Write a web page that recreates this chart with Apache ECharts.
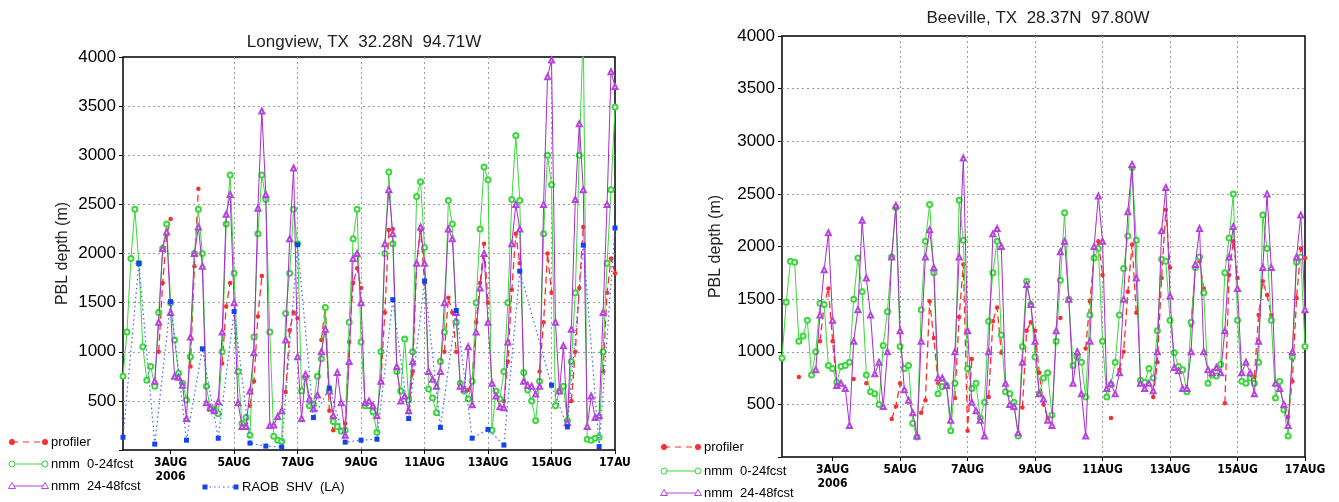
<!DOCTYPE html>
<html><head><meta charset="utf-8">
<script src="https://cdn.jsdelivr.net/npm/echarts@6/dist/echarts.min.js"></script>
<style>html,body{margin:0;padding:0;background:#fff}#c{width:1339px;height:502px}</style>
</head><body><div id="c"></div>
<script>
// ---- DATA (hours since 2006-08-01 00Z) ----
const tickHours = [48, 96, 144, 192, 240, 288, 336, 384];
const tickLabelsLeft = ['3AUG\n2006', '5AUG', '7AUG', '9AUG', '11AUG', '13AUG', '15AUG', '17AU'];
const tickLabelsRight = ['3AUG\n2006', '5AUG', '7AUG', '9AUG', '11AUG', '13AUG', '15AUG', '17AUG'];

// model / profiler samples every 3 h from Aug 1 12Z to Aug 17 00Z
const lvProfiler = [
  null, null, null, null,
  null, null, null, null, null, 1000, 1700, 2190,
  2350, null, null, null, null, 850, 1870, 2660,
  null, null, null, null, null, 880, 1460, 1700,
  null, null, null, null, 450, 700, 1360, 1770,
  null, null, null, null, null, 590, 1220, 1400,
  1340, null, null, null, null, null, 1120, 1460,
  400, 200, null, null, 270, 1100, 1700, 1850,
  1650, null, null, null, null, 700, 1400, 2240,
  2250, null, null, null, 400, 800, 1900, 2240,
  1700, null, null, null, null, 1000, 1550, 1400,
  1000, null, null, 610, 700, 1300, 1700, 2100,
  1500, null, null, null, 500, 900, 1630, 2200,
  1900, null, null, null, null, 800, 1300, 2000,
  1600, null, null, null, null, 500, 1000, 1650,
  2270, null, null, null, null, 800, 1600, 1950,
  1800
];
const lvNmm0024 = [
  750, 1200, 1950, 2450,
  1900, 1050, 710, 850, 650, 1400, 2050, 2300,
  1500, 1120, 780, 680, 510, 950, 2000, 2450,
  2000, 650, 420, 420, 370, 1000, 2300, 2800,
  1800, 800, 270, 330, 150, 1150, 2200, 2800,
  2550, 1200, 140, 100, 90, 1390, 1800, 2450,
  2100, 600, 740, 450, 460, 750, 930, 1450,
  600, 290, 240, 190, 200, 1300, 2150, 2450,
  1100, 450, 450, 390, 180, 1000, 2000, 2830,
  2100, 800, 600, 1130, 510, 1000, 2580, 2730,
  2060, 620, 530, 380, 900, 1200, 2540, 2300,
  1300, 680, 600, 520, 700, 1500, 2250, 2880,
  2750, 200, 600, 520, 800, 1500, 2550, 3200,
  2540, 790, 610, 500, 300, 700, 2200, 3000,
  2700, 450, 600, 650, 300, 900, 1600, 3000,
  4300, 110, 100, 120, 130, 1000, 1900, 2650,
  3490
];
const lvNmm2448 = [
  null, null, null, null,
  null, null, null, null, 700, 1300, 2050, 2220,
  1400, 750, 740, 660, 320, 1150, 2000, 2270,
  1870, 480, 430, 400, 490, 1200, 2400, 2600,
  1500, 480, 240, 240, 600, 990, 2460, 3450,
  2600, 250, 255, 340, 400, 1120, 2150, 2870,
  950, 320, 770, 520, 420, 560, 1000, 1230,
  600, 350, 790, 480, 150, 900, 1950, 2000,
  1500, 480, 500, 450, 350, 700, 2100, 2650,
  2200, 850, 500, 550, 400, 900, 1900, 2270,
  1900, 800, 720, 650, 800, 1500, 2250, 2150,
  1400, 650, 620, 1050, 460, 1200, 1650, 2000,
  1300, 680, 550, 440, 430, 1100, 2100, 2500,
  2250, 700, 660, 650, 570, 650, 2500, 3800,
  3970, 1300, 600, 1060, 280, 1230, 2550, 3320,
  2650, 240, 550, 330, 350, 1400, 2500, 3850,
  3700
];
// RAOB every 12 h from Aug 1 12Z to Aug 17 00Z
const lvRaob = [
  130, 1900, 60, 1510, 100, 1030, 120, 1410, 70, 40, 30, 2090, 330, 630, 80, 100,
  110, 1530, 320, 1720, 230, 1420, 120, 210, 50, 1820, null, 660, 235, 2085, 35, 2260
];

const bvProfiler = [
  null, null, null, null,
  760, null, null, null, null, 1100, 1450, 1600,
  1100, 680, null, null, null, 740, null, null,
  700, null, null, null, null, null, 360, 480,
  700, 640, null, null, null, 420, 540, 1480,
  1130, 700, null, null, null, 560, 1330, 1830,
  250, 930, null, null, null, 570, 1290, 1420,
  990, null, null, null, null, 470, 1200, 1280,
  1200, 800, 500, 370, null, null, 1320, null,
  null, null, null, null, 1030, 1480, 1900, 2050,
  1730, null, 370, null, 830, 1000, 1570, 2020,
  1370, null, null, null, 570, 900, 1700, 2350,
  1800, null, null, null, null, 1250, 1810, 1860,
  1600, null, null, null, null, 510, 1730, 2050,
  1700, null, null, null, 760, 1350, 1670, 1540,
  1350, null, null, null, 380, 720, 1510, 1980,
  1890
];
const bvNmm0024 = [
  940, 1470, 1860, 1850,
  1100, 1150, 1300, 780, 1000, 1460, 1450, 870,
  840, 710, 860, 870, 900, 1500, 1890, 1570,
  780, 620, 600, 500, 1060, 1380, 1900, 2370,
  1050, 840, 870, 320, 190, 1400, 2050, 2400,
  1750, 600, 670, 680, 250, 700, 2440, 2060,
  840, 650, 700, 370, 520, 1290, 1750, 2050,
  1160, 620, 600, 520, 200, 1050, 1670, 1450,
  950, 600, 750, 800, 400, 1100, 1680, 2320,
  1500, 870, 950, 900, 570, 1350, 1890, 1980,
  1100, 570, 690, 900, 1350, 1790, 2100, 2750,
  2060, 730, 710, 840, 750, 1200, 1880, 1860,
  1300, 990, 860, 830, 620, 1280, 1800, 1900,
  1560, 700, 780, 770, 880, 1750, 2080, 2500,
  1300, 720, 700, 750, 700, 900, 2300, 1980,
  1300, 560, 720, 450, 200, 950, 1850, 1900,
  1050
];
const bvNmm2448 = [
  null, null, null, null,
  null, null, null, null, 830, 1350, 1780, 2130,
  1300, 680, 700, 650, 300, 1100, 1400, 2250,
  1700, 1350, 790, 900, 480, 1000, 1900, 2390,
  1200, 640, 540, 420, 200, 1100, 1900, 2160,
  1800, 750, 750, 680, 350, 1000, 1900, 2840,
  1200, 520, 440, 350, 200, 1000, 2120, 2170,
  2000, 700, 500, 480, 230, 900, 1640, 1450,
  1100, 600, 550, 350, 300, 1200, 1950, 2050,
  1500, 700, 1000, 600, 200, 1100, 2000, 2480,
  2050, 650, 700, 600, 800, 1500, 2330, 2780,
  1700, 700, 650, 700, 630, 1000, 2150, 2560,
  1530, 850, 820, 650, 650, 1000, 1830, 2170,
  1000, 830, 800, 850, 800, 1200, 1900, 2190,
  1600, 800, 900, 800, 600, 1100, 1800, 2500,
  1800, 700, 650, 500, 300, 1000, 1900, 2300,
  1400
];

// ---- time stamps ----
const hours3 = [];
for (let i = 0; i < lvNmm0024.length; i++) hours3.push(12 + 3 * i);
const hours12 = [];
for (let i = 0; i < lvRaob.length; i++) hours12.push(12 + 12 * i);
const pairs = (vals, hrs) => vals.map((v, i) => [hrs[i], v]);

// ---- styles ----
const RED = '#ff2e2e', GREEN = '#3bd83b', PURPLE = '#b544dc', PURPLE_L = '#a82ccc', BLUE = '#1444f0';
const AX_FONT = '"Liberation Sans", Arial, sans-serif';
const NARROW = '"Liberation Sans Narrow", "DejaVu Sans Condensed", sans-serif';

const chart = echarts.init(document.getElementById('c'), null, { renderer: 'canvas' });

function xAxisFor(gi, labels) {
  return {
    type: 'value', gridIndex: gi, min: 12, max: 384,
    axisLine: { show: false },
    axisTick: { show: true, customValues: tickHours, length: 4, lineStyle: { color: '#000', width: 1 } },
    axisLabel: {
      customValues: tickHours, margin: 6, color: '#000',
      fontFamily: NARROW, fontWeight: 'bold', fontSize: 12, lineHeight: 14,
      formatter: v => labels[tickHours.indexOf(v)] || ''
    },
    splitLine: { show: true, showMinLine: false, showMaxLine: false,
      lineStyle: { color: '#9a9a9a', type: [2, 3], width: 1 } }
  };
}
function yAxisFor(gi, gap) {
  return {
    type: 'value', gridIndex: gi, min: 0, max: 4000, interval: 500,
    name: 'PBL depth (m)', nameLocation: 'middle', nameGap: gap,
    nameTextStyle: { fontFamily: AX_FONT, fontSize: 16, color: '#222' },
    axisLine: { show: false },
    axisTick: { show: true, length: 4, lineStyle: { color: '#000' } },
    axisLabel: { formatter: v => (v === 0 ? '' : String(v)), fontFamily: AX_FONT, fontSize: 17, color: '#000', margin: 7 },
    splitLine: { show: true, showMinLine: false, showMaxLine: false,
      lineStyle: { color: '#9a9a9a', type: [2, 3], width: 1 } }
  };
}
function profilerSeries(gi, vals) {
  return { type: 'line', xAxisIndex: gi, yAxisIndex: gi, data: pairs(vals, hours3),
    symbol: 'circle', symbolSize: 4.5, showAllSymbol: true, connectNulls: false,
    itemStyle: { color: RED }, lineStyle: { color: RED, width: 1.3, type: [7, 4] }, z: 2 };
}
function nmm0024Series(gi, vals) {
  return { type: 'line', xAxisIndex: gi, yAxisIndex: gi, data: pairs(vals, hours3),
    symbol: 'emptyCircle', symbolSize: 5, showAllSymbol: true, connectNulls: false,
    itemStyle: { color: GREEN, borderWidth: 1 }, lineStyle: { color: GREEN, width: 1 }, z: 3 };
}
function nmm2448Series(gi, vals) {
  return { type: 'line', xAxisIndex: gi, yAxisIndex: gi, data: pairs(vals, hours3),
    symbol: 'emptyTriangle', symbolSize: 5, showAllSymbol: true, connectNulls: false,
    itemStyle: { color: PURPLE, borderWidth: 1 }, lineStyle: { color: PURPLE_L, width: 1 }, z: 4 };
}
function raobSeries(gi, vals) {
  return { type: 'line', xAxisIndex: gi, yAxisIndex: gi, data: pairs(vals, hours12),
    symbol: 'rect', symbolSize: 5, showAllSymbol: true, connectNulls: true,
    itemStyle: { color: BLUE }, lineStyle: { color: '#3a63ff', width: 1.2, type: [1.5, 3] }, z: 5 };
}

// ---- legend / title graphics ----
function legendRow(x1, x2, y, color, kind, dash, text, tx) {
  const els = [{ type: 'line', shape: { x1: x1, y1: y, x2: x2, y2: y },
    style: { stroke: kind === 'rect' ? '#3a63ff' : color, lineWidth: 1, lineDash: dash } }];
  [x1, x2].forEach(x => {
    if (kind === 'dot') els.push({ type: 'circle', shape: { cx: x, cy: y, r: 2.6 }, style: { fill: color, stroke: color } });
    if (kind === 'circle') els.push({ type: 'circle', shape: { cx: x, cy: y, r: 3 }, style: { fill: '#fff', stroke: color, lineWidth: 1 } });
    if (kind === 'tri') els.push({ type: 'polygon', shape: { points: [[x, y - 3.5], [x - 3.5, y + 2.5], [x + 3.5, y + 2.5]] }, style: { fill: '#fff', stroke: color, lineWidth: 1 } });
    if (kind === 'rect') els.push({ type: 'rect', shape: { x: x - 2.5, y: y - 2.5, width: 5, height: 5 }, style: { fill: color } });
  });
  els.push({ type: 'text', x: tx, y: y, style: { text: text, font: '13px ' + AX_FONT, fill: '#000',
    verticalAlign: 'middle', textVerticalAlign: 'middle' } });
  return els;
}
function titleText(x, y, text) {
  return { type: 'text', x: x, y: y, style: { text: text, font: '17px ' + AX_FONT, fill: '#222',
    align: 'center', textAlign: 'center', verticalAlign: 'middle', textVerticalAlign: 'middle' } };
}
const graphics = [].concat(
  [titleText(364, 42, 'Longview, TX  32.28N  94.71W'), titleText(1038, 18, 'Beeville, TX  28.37N  97.80W')],
  legendRow(12, 45, 442, RED, 'dot', [6, 5], 'profiler', 51),
  legendRow(12, 45, 464, GREEN, 'circle', null, 'nmm  0-24fcst', 51),
  legendRow(12, 45, 486, PURPLE, 'tri', null, 'nmm  24-48fcst', 51),
  legendRow(205, 236, 487, BLUE, 'rect', [1.5, 3], 'RAOB  SHV  (LA)', 242),
  legendRow(664, 698, 447, RED, 'dot', [6, 5], 'profiler', 704),
  legendRow(664, 698, 471, GREEN, 'circle', null, 'nmm  0-24fcst', 704),
  legendRow(664, 698, 493, PURPLE, 'tri', null, 'nmm  24-48fcst', 704)
);

chart.setOption({
  animation: false,
  backgroundColor: '#fff',
  grid: [
    { left: 123, top: 57, width: 492, height: 393, show: true, borderColor: '#000', borderWidth: 1.5, backgroundColor: 'transparent', containLabel: false },
    { left: 782, top: 36, width: 523, height: 421, show: true, borderColor: '#000', borderWidth: 1.5, backgroundColor: 'transparent', containLabel: false }
  ],
  xAxis: [xAxisFor(0, tickLabelsLeft), xAxisFor(1, tickLabelsRight)],
  yAxis: [yAxisFor(0, 52), yAxisFor(1, 58)],
  series: [
    profilerSeries(0, lvProfiler), nmm0024Series(0, lvNmm0024), nmm2448Series(0, lvNmm2448), raobSeries(0, lvRaob),
    profilerSeries(1, bvProfiler), nmm0024Series(1, bvNmm0024), nmm2448Series(1, bvNmm2448)
  ],
  graphic: graphics
});
</script></body></html>
